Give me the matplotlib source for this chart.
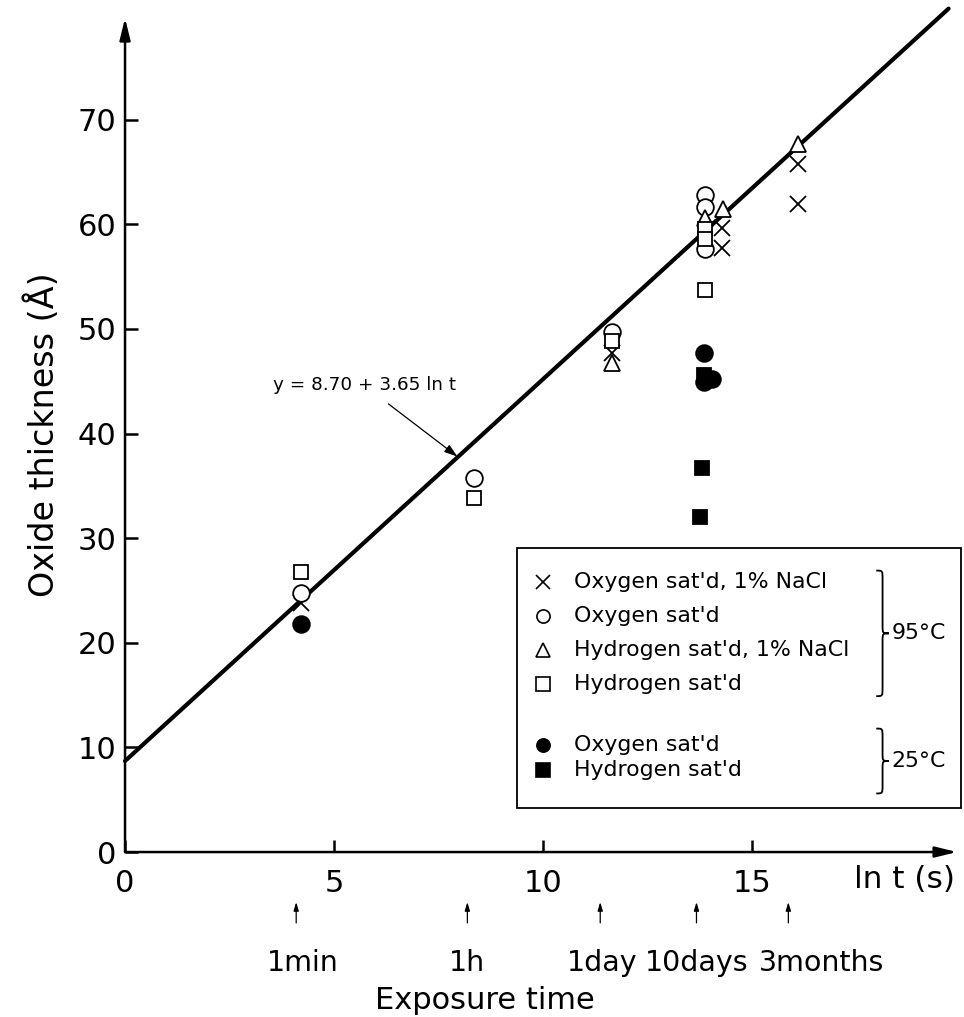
import numpy as np
import matplotlib
matplotlib.use("Agg")
import matplotlib.pyplot as plt
from matplotlib.path import Path
from matplotlib.patches import PathPatch, Rectangle

# ---- data -------------------------------------------------------------
# 95 C, oxygen saturated, 1% NaCl
ox_nacl_x = [4.2, 11.65, 14.28, 14.28, 16.1, 16.1]
ox_nacl_y = [23.8, 47.7, 59.6, 57.7, 65.8, 61.9]
# 95 C, oxygen saturated
ox_x = [4.2, 8.35, 11.65, 13.88, 13.88, 13.88]
ox_y = [24.8, 35.7, 49.7, 62.8, 61.6, 57.6]
# 95 C, hydrogen saturated, 1% NaCl
h_nacl_x = [11.65, 13.88, 14.3, 16.1]
h_nacl_y = [46.7, 60.6, 61.5, 67.7]
# 95 C, hydrogen saturated
h_x = [4.2, 8.35, 11.65, 13.88, 13.88, 13.88]
h_y = [26.8, 33.8, 48.8, 59.5, 58.6, 53.7]
# 25 C, oxygen saturated
ox25_x = [4.2, 13.85, 13.85, 14.05]
ox25_y = [21.8, 47.7, 44.9, 45.2]
# 25 C, hydrogen saturated
h25_x = [13.85, 13.8, 13.75]
h25_y = [45.6, 36.7, 32.0]

# fitted law y = a + b ln t
fit_a = 8.70
fit_b = 3.65
fit_xmax = 19.7

x_ticks = [0, 5, 10, 15]
y_ticks = [0, 10, 20, 30, 40, 50, 60, 70]
time_labels = ["1min", "1h", "1day", "10days", "3months"]
time_seconds = [60, 3600, 86400, 864000, 7.776e6]

legend_labels = ["Oxygen sat'd, 1% NaCl", "Oxygen sat'd",
                 "Hydrogen sat'd, 1% NaCl", "Hydrogen sat'd",
                 "Oxygen sat'd", "Hydrogen sat'd"]

# ---- figure -----------------------------------------------------------
plt.rcParams["font.family"] = ["DejaVu Sans"]
fig = plt.figure(figsize=(9.64, 10.17), dpi=100)
ax = fig.add_axes([0.1297, 0.1622, 0.863, 0.820])
XMAX, YMAX = 19.9, 79.7
ax.set_xlim(0, XMAX)
ax.set_ylim(0, YMAX)
for s in ax.spines.values():
    s.set_visible(False)

# axes drawn as arrows
arrow_kw = dict(arrowstyle="-|>,head_length=1.3,head_width=0.32",
                lw=1.8, color="k", shrinkA=0, shrinkB=0)
ax.annotate("", xy=(XMAX, 0), xytext=(0, 0), arrowprops=arrow_kw,
            annotation_clip=False)
ax.annotate("", xy=(0, YMAX), xytext=(0, 0), arrowprops=arrow_kw,
            annotation_clip=False)

ax.set_xticks(x_ticks)
ax.set_yticks(y_ticks)
ax.tick_params(direction="in", length=9, width=1.8, labelsize=22, color="k")
ax.tick_params(axis="x", pad=12)
ax.tick_params(axis="y", pad=6)

# regression line
xf = np.linspace(0, fit_xmax, 200)
ax.plot(xf, fit_a + fit_b * xf, color="k", lw=3.0, zorder=2,
        solid_capstyle="round", clip_on=False)

ms = 11
mew = 1.3
common = dict(linestyle="none", clip_on=False, zorder=3)
ax.plot(ox_nacl_x, ox_nacl_y, marker="x", ms=ms, mew=mew, color="k", **common)
ax.plot(ox_x, ox_y, marker="o", ms=ms + 1, mew=mew, mfc="white", mec="k", **common)
ax.plot(h_nacl_x, h_nacl_y, marker="^", ms=ms + 1, mew=mew, mfc="white", mec="k", **common)
ax.plot(h_x, h_y, marker="s", ms=ms - 1, mew=mew, mfc="white", mec="k", **common)
ax.plot(ox25_x, ox25_y, marker="o", ms=ms + 1, mew=mew, color="k", **common)
ax.plot(h25_x, h25_y, marker="s", ms=ms - 1, mew=mew, color="k", **common)

# equation label with pointer
ax.annotate("y = 8.70 + 3.65 ln t", xy=(7.95, 37.8), xytext=(5.72, 44.6),
            ha="center", va="center", fontsize=13.2,
            arrowprops=dict(arrowstyle="-|>,head_length=0.6,head_width=0.2",
                            lw=0.9, color="k", shrinkA=8, shrinkB=0))

# axis titles
ax.text(19.86, -2.6, "ln t (s)", ha="right", va="center", fontsize=22.5)
ax.set_ylabel("Oxide thickness (Å)", fontsize=24, labelpad=12)

# exposure time markers
trans = ax.get_xaxis_transform()
label_shift = [0.15, 0.0, 0.05, 0.0, 0.8]
for lab, sec, dx in zip(time_labels, time_seconds, label_shift):
    lt = np.log(sec)
    ax.annotate("", xy=(lt, -0.060), xytext=(lt, -0.085), xycoords=trans,
                arrowprops=dict(arrowstyle="-|>,head_length=0.5,head_width=0.15",
                                lw=0.9, color="k", shrinkA=0, shrinkB=0),
                annotation_clip=False)
    ax.text(lt + dx, -0.133, lab, transform=trans, ha="center", va="center",
            fontsize=20.5)
ax.text(8.6, -0.178, "Exposure time", transform=trans, ha="center",
        va="center", fontsize=22)

# legend box
box = Rectangle((9.38, 4.2), 10.62, 24.9, fill=False, lw=1.3, ec="k",
                clip_on=False, zorder=4)
ax.add_patch(box)
leg_y = [25.8, 22.6, 19.3, 16.1, 10.2, 7.8]
leg_style = [dict(marker="x", color="k"),
             dict(marker="o", mfc="white", mec="k"),
             dict(marker="^", mfc="white", mec="k"),
             dict(marker="s", mfc="white", mec="k"),
             dict(marker="o", color="k"),
             dict(marker="s", color="k")]
for yy, lab, st in zip(leg_y, legend_labels, leg_style):
    ax.plot([10.0], [yy], linestyle="none", ms=9.5, mew=1.2, clip_on=False,
            zorder=5, **st)
    ax.text(10.75, yy, lab, ha="left", va="center", fontsize=15.8, zorder=5)


def brace(x, y0, y1, w, d):
    ym = 0.5 * (y0 + y1)
    xm = x + w / 2
    verts = [(x, y1), (xm, y1), (xm, y1), (xm, y1 - d),
             (xm, ym + d),
             (xm, ym), (xm, ym), (x + w, ym),
             (xm, ym), (xm, ym), (xm, ym - d),
             (xm, y0 + d),
             (xm, y0), (xm, y0), (x, y0)]
    codes = [Path.MOVETO, Path.CURVE4, Path.CURVE4, Path.CURVE4,
             Path.LINETO,
             Path.CURVE4, Path.CURVE4, Path.CURVE4,
             Path.CURVE4, Path.CURVE4, Path.CURVE4,
             Path.LINETO,
             Path.CURVE4, Path.CURVE4, Path.CURVE4]
    ax.add_patch(PathPatch(Path(verts, codes), fill=False, lw=1.3, ec="k",
                           clip_on=False, zorder=5))


brace(17.97, 14.9, 26.9, 0.30, 0.8)
brace(17.97, 5.6, 11.8, 0.30, 0.8)
ax.text(18.33, 20.9, "95°C", ha="left", va="center", fontsize=15.8)
ax.text(18.33, 8.7, "25°C", ha="left", va="center", fontsize=15.8)

fig.savefig("out.png", dpi=100)
